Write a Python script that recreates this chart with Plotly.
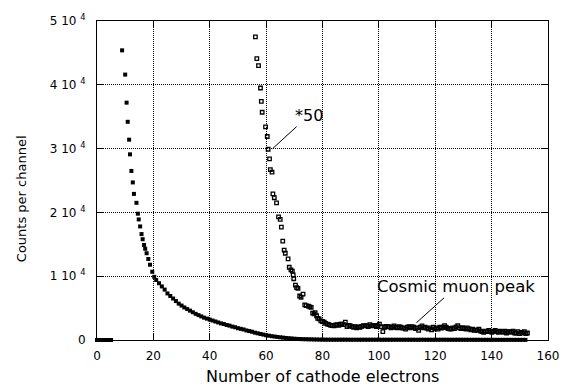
import plotly.graph_objects as go

# ---------------- data ----------------
# filled squares: raw spectrum
FILL_X_START = [0, 1, 2, 3, 4, 5]
FILL_Y_START = [0, 0, 0, 0, 0, 0]

FILL_X_STEEP = [8.9, 10.0, 10.5, 10.9, 11.4, 11.7, 12.2, 12.7, 13.1, 14.0, 14.5,
                14.8, 15.3, 15.8, 16.2, 16.7, 17.1, 17.6, 18.2, 18.8, 19.6, 20.3]
FILL_Y_STEEP = [45400, 41600, 37200, 34200, 31400, 29100, 26500, 24700, 22900, 21500, 19800,
                18900, 17800, 16600, 15800, 14900, 14300, 13600, 12700, 11800, 10700, 9900]

FILL_X_TAIL = list(range(21, 153))
FILL_Y_TAIL = [
    9400, 8900, 8400, 7900, 7300, 6900, 6500, 6100, 5700, 5400,
    5100, 4850, 4600, 4350, 4100, 3900, 3700, 3500, 3350, 3200,
    3050, 2900, 2750, 2600, 2500, 2350, 2250, 2100, 2000, 1850,
    1750, 1650, 1500, 1400, 1300, 1150, 1050, 950, 850, 750,
    680, 600, 540, 480, 420, 370, 320, 280, 240, 200,
    170, 150, 130, 120, 105, 100, 85, 75, 65, 58,
    52, 50, 46, 44, 47, 48, 50, 52, 45, 43,
    41, 40, 42, 44, 45, 43, 46, 44, 42, 47,
    38, 40, 42, 39, 41, 40, 42, 38, 36, 40,
    39, 40, 37, 33, 42, 39, 36, 37, 35, 38,
    36, 38, 44, 37, 35, 37, 39, 43, 36, 37,
    35, 33, 32, 31, 32, 28, 25, 27, 28, 25,
    29, 25, 27, 24, 25, 26, 25, 22, 24, 21,
    23, 22,
]

# open squares: spectrum multiplied by 50
OPEN_X_STEEP = [56.2, 56.7, 57.3, 58.0, 58.3, 58.6, 59.8, 60.4, 60.7, 61.2,
                61.5, 62.1, 62.4, 62.9, 63.7, 64.4, 65.0, 65.4, 65.9, 66.4,
                66.8, 67.8, 68.2, 68.8, 69.3, 69.6, 69.8, 70.4, 70.8, 71.3,
                71.9, 72.4, 73.1, 73.7, 74.2, 75.0, 75.5, 76.0, 76.5, 77.0,
                77.4, 77.9, 78.3, 78.8, 79.4]
OPEN_Y_STEEP = [47500, 44100, 43000, 39500, 37400, 35700, 33400, 31900, 29900, 28400,
                26700, 26300, 22900, 22300, 21500, 19300, 18900, 17700, 15500, 14100,
                13600, 12700, 11400, 11000, 10800, 10200, 9600, 8600, 8200, 8100,
                6900, 6700, 7200, 5500, 5400, 5300, 5200, 5100, 4200, 4100,
                4300, 3800, 3400, 3300, 3000]

OPEN_X_PLAT = [
    80.0, 80.6, 81.1, 81.7, 82.3, 82.9, 83.5, 84.1, 84.7, 85.2,
    85.8, 86.4, 86.9, 87.5, 88.1, 88.7, 89.3, 89.8, 90.4, 91.0,
    91.6, 92.1, 92.7, 93.3, 93.9, 94.5, 95.0, 95.6, 96.2, 96.8,
    97.4, 97.9, 98.5, 99.1, 99.6, 100.2, 100.8, 101.4, 102.0, 102.5,
    103.1, 103.7, 104.3, 104.9, 105.4, 106.0, 106.6, 107.2, 107.8, 108.3,
    108.9, 109.5, 110.1, 110.7, 111.2, 111.8, 112.4, 113.0, 113.6, 114.1,
    114.7, 115.3, 115.9, 116.4, 117.0, 117.6, 118.2, 118.7, 119.3, 119.9,
    120.5, 121.0, 121.6, 122.2, 122.8, 123.3, 123.9, 124.5, 125.1, 125.6,
    126.2, 126.8, 127.4, 128.0, 128.5, 129.1, 129.7, 130.3, 130.9, 131.4,
    132.0, 132.6, 133.2, 133.8, 134.3, 134.9, 135.5, 136.1, 136.6, 137.2,
    137.8, 138.4, 139.0, 139.5, 140.1, 140.7, 141.3, 141.8, 142.4, 143.0,
    143.6, 144.1, 144.7, 145.3, 145.9, 146.4, 147.0, 147.6, 148.2, 148.7,
    149.3, 149.9, 150.5, 151.0, 151.6, 152.2, 152.7,
]
OPEN_Y_PLAT = [
    2900, 2800, 2600, 2500, 2400, 2300, 2250, 2200, 2350, 2400,
    2300, 2500, 2500, 2400, 2800, 2100, 2300, 2250, 2100, 2000,
    2100, 1900, 2050, 2000, 2150, 2250, 2200, 2250, 2100, 2400,
    2200, 2250, 2300, 2100, 2200, 2500, 2100, 1300, 2000, 2150,
    2050, 2100, 1900, 2000, 2200, 2000, 1900, 2100, 2000, 1850,
    1900, 1700, 2000, 2100, 1900, 2100, 2000, 1800, 1900, 1500,
    2000, 2200, 1900, 2000, 1850, 1700, 1900, 1600, 2000, 1750,
    1900, 1700, 2000, 1850, 2000, 2250, 2000, 1800, 1750, 1700,
    1900, 1800, 2050, 2250, 1900, 1800, 1950, 1800, 1700, 1900,
    1750, 1600, 1700, 1500, 1600, 1500, 1700, 1400, 1300, 1200,
    1400, 1300, 1500, 1300, 1200, 1400, 1500, 1300, 1200, 1400,
    1300, 1200, 1400, 1100, 1300, 1300, 1200, 1400, 1100, 1100,
    1300, 1000, 1200, 1100, 1300, 1000, 1100,
]

X_TICKS = [0, 20, 40, 60, 80, 100, 120, 140, 160]
Y_TICKS = [0, 10000, 20000, 30000, 40000, 50000]
Y_TICKTEXT = ["0", "1 10 <sup>4</sup>", "2 10 <sup>4</sup>", "3 10 <sup>4</sup>",
              "4 10 <sup>4</sup>", "5 10 <sup>4</sup>"]

X_TITLE = "Number of cathode electrons"
Y_TITLE = "Counts per channel"
NOTE_SCALE = "*50"
NOTE_PEAK = "Cosmic muon peak"
NOTE_SCALE_AT = (62.3, 30000)
NOTE_PEAK_AT = (113.3, 2700)

# ---------------- figure ----------------
fill_x = FILL_X_START + FILL_X_STEEP + FILL_X_TAIL
fill_y = FILL_Y_START + FILL_Y_STEEP + FILL_Y_TAIL
open_x = OPEN_X_STEEP + OPEN_X_PLAT
open_y = OPEN_Y_STEEP + OPEN_Y_PLAT

FONT = "DejaVu Sans"

fig = go.Figure()
fig.add_trace(go.Scatter(
    x=open_x, y=open_y, mode="markers", cliponaxis=False,
    marker=dict(symbol="square-open", size=3.5, color="black", line=dict(width=1.3, color="black")),
    showlegend=False,
))
fig.add_trace(go.Scatter(
    x=fill_x, y=fill_y, mode="markers", cliponaxis=False,
    marker=dict(symbol="square", size=4, color="black", line=dict(width=0)),
    showlegend=False,
))

axis_common = dict(
    showgrid=True, gridcolor="black", gridwidth=1, griddash="1px,1px",
    showline=True, linecolor="black", linewidth=1, mirror="ticks",
    ticks="inside", tickcolor="black", tickwidth=1,
    zeroline=False, tickfont=dict(family=FONT, size=12, color="black"),
)

fig.update_layout(
    width=571, height=388,
    margin=dict(l=97, r=13, t=15, b=48, pad=0),
    paper_bgcolor="white", plot_bgcolor="white",
    font=dict(family=FONT, color="black"),
    xaxis=dict(range=[0, 160], tickvals=X_TICKS, ticklen=6, ticklabelstandoff=5, **axis_common),
    yaxis=dict(range=[0, 50000], tickvals=Y_TICKS, ticktext=Y_TICKTEXT, ticklen=7,
               ticklabelstandoff=8, **axis_common),
    annotations=[
        dict(text=X_TITLE, xref="paper", yref="paper", x=0.5, y=0, xanchor="center",
             yanchor="middle", yshift=-36, showarrow=False, font=dict(family=FONT, size=16)),
        dict(text=Y_TITLE, xref="paper", yref="paper", x=0, y=0.4415, xanchor="center",
             yanchor="middle", xshift=-76, textangle=-90, showarrow=False,
             font=dict(family=FONT, size=13)),
        dict(text=NOTE_SCALE, x=NOTE_SCALE_AT[0], y=NOTE_SCALE_AT[1], xref="x", yref="y",
             showarrow=True, arrowhead=0, arrowwidth=1, arrowcolor="black", ax=36, ay=-33,
             font=dict(family=FONT, size=16)),
        dict(text=NOTE_PEAK, x=NOTE_PEAK_AT[0], y=NOTE_PEAK_AT[1], xref="x", yref="y",
             showarrow=True, arrowhead=0, arrowwidth=1, arrowcolor="black", ax=40, ay=-36,
             font=dict(family=FONT, size=16.5)),
    ],
)

fig.write_html("out.html")
